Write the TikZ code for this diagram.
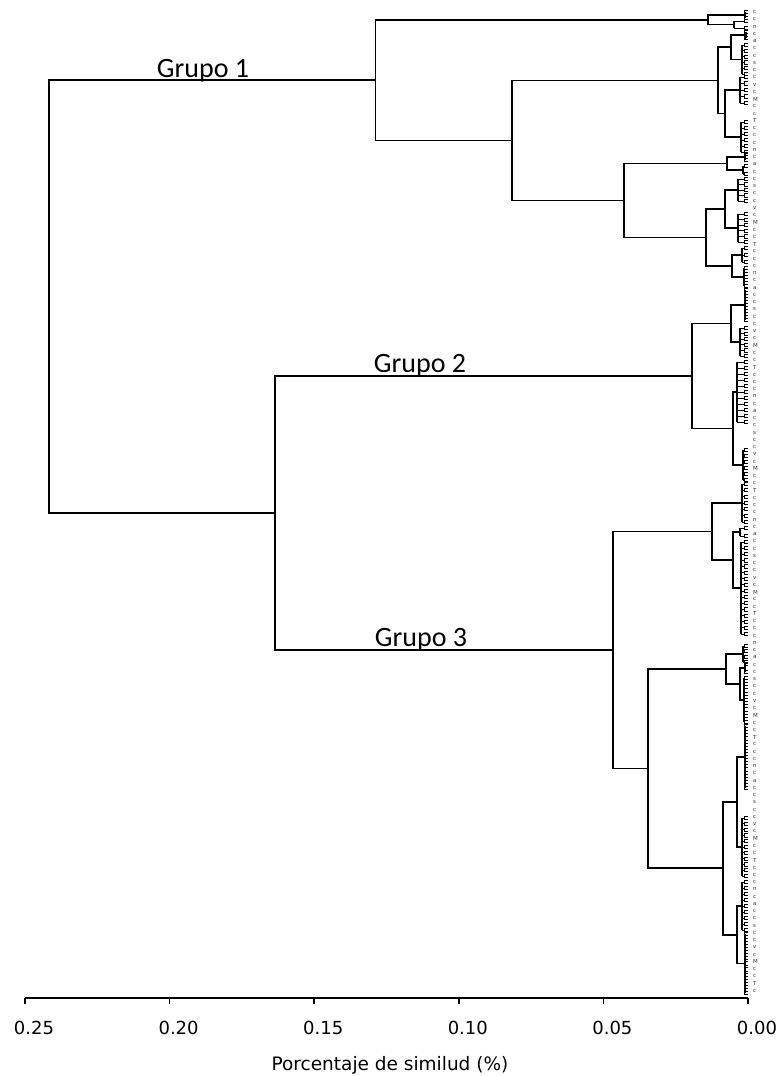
\documentclass[tikz,border=0pt]{standalone}
\usepackage{fontspec}
\setmainfont{DejaVu Sans}
\newfontfamily\grupofont{Carlito}
\usepackage{tikz}
\usetikzlibrary{calc}
\usetikzlibrary{positioning}

\tikzset{
	rama/.style = {draw = black, line width = 1.6pt},
	fina/.style = {draw = black, line width = 1pt},
	grupo/.style = {font = \grupofont\fontsize{28}{28}\selectfont, anchor = base, inner sep = 0pt},
	marca/.style = {font = \fontsize{18}{18}\selectfont, inner sep = 0pt},
	titulo/.style = {font = \fontsize{18.5}{18.5}\selectfont, inner sep = 0pt},
	hoja/.style = {font = \fontsize{5.5}{5.5}\selectfont, text = black!80, inner sep = 0pt, anchor = west}
}

\newcommand{\hojas}[3]{%
	\pgfmathtruncatemacro{\nh}{max(1, round((#3 - #2)/6))}
	\pgfmathsetmacro{\dh}{(#3 - #2)/\nh}
	\draw[rama] (#1, #2) -- (#1, #3);
	\foreach \k in {0,...,\nh}{
		\pgfmathsetmacro{\yk}{#2 + \k*\dh}
		\draw[fina] (#1, \yk) -- (744, \yk)
			(744, \yk - 1.6) -- (744, \yk + 1.6)
			(744, \yk - 1.6) -- (747.5, \yk - 1.6)
			(744, \yk + 1.6) -- (747.5, \yk + 1.6);
	}
}

\begin{document}
\begin{tikzpicture}[x = 1pt, y = -1pt]
					\useasboundingbox (0, 0) rectangle (779, 1076);

					\coordinate (root) at (49, 296.5) {};
					\coordinate (g1) at (375.5, 80) {};
					\coordinate (g23) at (275, 513) {};
					\coordinate (g2) at (692, 376) {};
					\coordinate (g3) at (613, 650) {};

					\coordinate (a) at (708, 19.75) {};
					\coordinate (a1) at (745, 15) {};
					\coordinate (a2) at (734, 24.5) {};
					\coordinate (b) at (512, 140.5) {};
					\coordinate (B) at (718, 80.4) {};
					\coordinate (B1) at (731, 47.25) {};
					\coordinate (B1a) at (746, 35) {};
					\coordinate (B1b) at (742, 59.5) {};
					\coordinate (B2) at (725, 113.5) {};
					\coordinate (B2a) at (740, 90) {};
					\coordinate (B2b) at (741, 137) {};
					\coordinate (C) at (624, 200.5) {};
					\coordinate (C1) at (727, 163.5) {};
					\coordinate (C1a) at (745, 157) {};
					\coordinate (C1b) at (743, 170) {};
					\coordinate (C2) at (706, 237.5) {};
					\coordinate (C2a) at (725, 209) {};
					\coordinate (C2a1) at (738, 190) {};
					\coordinate (C2a2) at (738, 228) {};
					\coordinate (C2b) at (732, 266) {};
					\coordinate (C2b1) at (742, 255) {};
					\coordinate (C2b2) at (744, 277) {};

					\coordinate (D) at (731, 323.5) {};
					\coordinate (D1) at (745, 305) {};
					\coordinate (D2) at (740, 342) {};
					\coordinate (E) at (733, 428.5) {};
					\coordinate (E1) at (737, 392) {};
					\coordinate (E2) at (743, 465) {};

					\coordinate (F) at (712, 531.5) {};
					\coordinate (F1) at (742, 503) {};
					\coordinate (F2) at (733, 560) {};
					\coordinate (F2a) at (740, 532) {};
					\coordinate (F2b) at (741, 588) {};
					\coordinate (G) at (648, 768.5) {};
					\coordinate (G1) at (726, 669) {};
					\coordinate (G1a) at (743, 654) {};
					\coordinate (G1b) at (740, 684) {};
					\coordinate (G1b1) at (745, 668) {};
					\coordinate (G1b2) at (744, 700) {};
					\coordinate (G2) at (723, 868) {};
					\coordinate (G2a) at (737, 802) {};
					\coordinate (G2a1) at (745, 757) {};
					\coordinate (G2a2) at (742, 847) {};
					\coordinate (G2b) at (737, 934.75) {};
					\coordinate (G2b1) at (742, 906) {};
					\coordinate (G2b2) at (745, 963.5) {};

					\draw[rama] (root) |- (g1);
					\draw[rama] (root) |- (g23);
					\draw[rama] (g1) |- (a);
					\draw[rama] (g1) |- (b);
					\draw[rama] (g23) |- (g2);
					\draw[rama] (g23) |- (g3);
					\foreach \p/\h in {a/a1, a/a2, b/B, b/C, B/B1, B/B2, B1/B1a, B1/B1b, B2/B2a, B2/B2b,
						C/C1, C/C2, C1/C1a, C1/C1b, C2/C2a, C2/C2b, C2a/C2a1, C2a/C2a2, C2b/C2b1, C2b/C2b2,
						g2/D, g2/E, D/D1, D/D2, E/E1, E/E2,
						g3/F, g3/G, F/F1, F/F2, F2/F2a, F2/F2b, G/G1, G/G2, G1/G1a, G1/G1b, G1b/G1b1, G1b/G1b2,
						G2/G2a, G2/G2b, G2a/G2a1, G2a/G2a2, G2b/G2b1, G2b/G2b2}
						\draw[rama] (\p) |- (\h);

					\hojas{745}{12}{18}
					\hojas{734}{21}{28}
					\hojas{746}{32}{38}
					\hojas{742}{45}{74}
					\hojas{740}{77}{103}
					\hojas{741}{122}{152}
					\hojas{745}{154}{160}
					\hojas{743}{166}{174}
					\hojas{738}{179}{201}
					\hojas{738}{214}{242}
					\hojas{742}{248}{262}
					\hojas{744}{268}{286}
					\hojas{745}{290}{320}
					\hojas{740}{328}{356}
					\hojas{737}{362}{422}
					\hojas{743}{450}{480}
					\hojas{742}{484}{522}
					\hojas{740}{528}{536}
					\hojas{741}{542}{634}
					\hojas{743}{646}{662}
					\hojas{745}{664}{672}
					\hojas{744}{678}{722}
					\hojas{745}{726}{788}
					\hojas{742}{818}{876}
					\hojas{742}{882}{930}
					\hojas{745}{934}{993}

					\foreach \i in {0,...,135}{
						\pgfmathsetmacro{\yl}{12 + \i*7.25}
						\pgfmathparse{{"c","c","n","c","a","c","c","s","c","c","v","c","M","c","c","T","c"}[mod(\i,17)]}
						\edef\letra{\pgfmathresult}
						\node[hoja] (l\i) at (753, \yl) {\letra};
					}

					\node[grupo] (n1) at (203, 77) {Grupo 1};
					\node[grupo] (n2) at (420, 372) {Grupo 2};
					\node[grupo] (n3) at (421, 646) {Grupo 3};

					\coordinate (ax0) at (25, 998) {};
					\coordinate (ax1) at (748, 998) {};
					\draw[rama] (ax0) -- (ax1);
					\foreach \val [count = \j from 0] in {0.25, 0.20, 0.15, 0.10, 0.05, 0.00}{
						\coordinate (k\j) at ($(ax0) + (\j*144.6, 0)$) {};
						\draw[rama] (k\j) -- ++(0, 6);
						\node[marca] (t\j) at ($(k\j) + (9, 30)$) {\val};
					}
					\node[titulo] (eje) at (390, 1065) {Porcentaje de similud (\%)};
                \end{tikzpicture}
\end{document}
